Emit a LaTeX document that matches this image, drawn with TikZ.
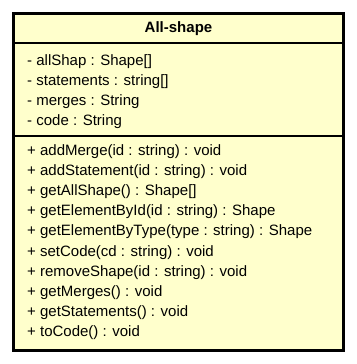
\documentclass[tikz,border=0pt]{standalone}
\usepackage{fontspec}
\setmainfont{Liberation Sans}
\usetikzlibrary{shapes}
\definecolor{classfill}{HTML}{FFFFCC}
\tikzstyle{member}=[anchor=west,inner sep=0pt,font=\fontsize{15}{17}\selectfont]
\tikzstyle{title}=[inner sep=0pt,font=\fontsize{15}{17}\selectfont\bfseries]

\begin{document}
\begin{tikzpicture}[x=1pt,y=-1pt]
\useasboundingbox (0,0) rectangle (356,364);
\draw[line width=3pt,fill=classfill] (13.5,13.5) rectangle (343.5,350.5);
\draw[line width=1.5pt] (13.5,43) -- (343.5,43);
\draw[line width=1.5pt] (13.5,136) -- (343.5,136);
\node[title] (name) at (178.5,29) {All-shape};
% attributes
\node[member] (a1) at (27,62) {- allShap : Shape[]};
\node[member] (a2) at (27,82) {- statements : string[]};
\node[member] (a3) at (27,102) {- merges : String};
\node[member] (a4) at (27,122) {- code : String};
% operations
\node[member] (o1) at (27,152) {+ addMerge(id : string) : void};
\node[member] (o2) at (27,172) {+ addStatement(id : string) : void};
\node[member] (o3) at (27,192) {+ getAllShape() : Shape[]};
\node[member] (o4) at (27,212) {+ getElementById(id : string) : Shape};
\node[member] (o5) at (27,232) {+ getElementByType(type : string) : Shape};
\node[member] (o6) at (27,253) {+ setCode(cd : string) : void};
\node[member] (o7) at (27,273) {+ removeShape(id : string) : void};
\node[member] (o8) at (27,293) {+ getMerges() : void};
\node[member] (o9) at (27,313) {+ getStatements() : void};
\node[member] (o10) at (27,333) {+ toCode() : void};
\end{tikzpicture}
\end{document}
